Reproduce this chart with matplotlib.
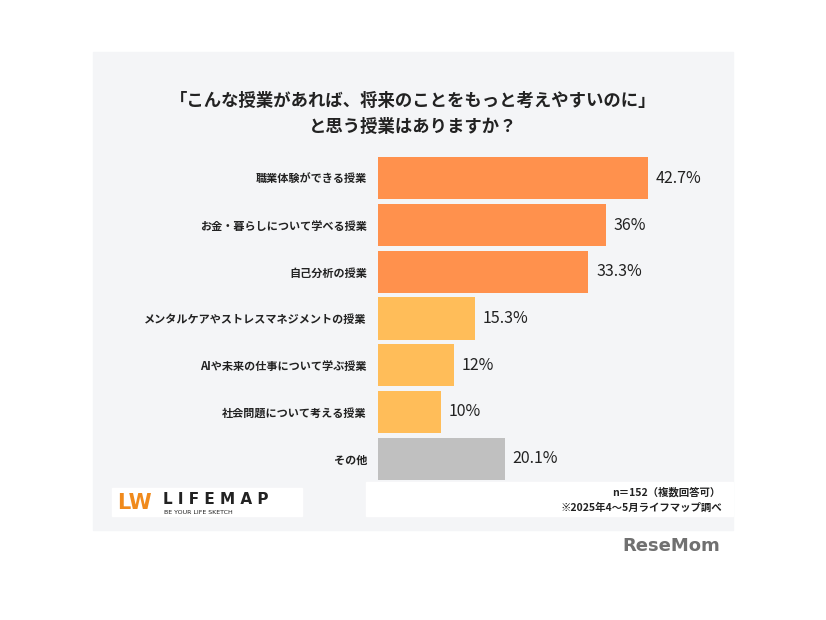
import matplotlib
matplotlib.use("Agg")
import matplotlib.pyplot as plt
from matplotlib.patches import Rectangle

plt.rcParams["font.family"] = "Noto Sans CJK JP"

categories = ["職業体験ができる授業", "お金・暮らしについて学べる授業", "自己分析の授業",
              "メンタルケアやストレスマネジメントの授業", "AIや未来の仕事について学ぶ授業",
              "社会問題について考える授業", "その他"]
values = [42.7, 36, 33.3, 15.3, 12, 10, 20.1]
labels = ["42.7%", "36%", "33.3%", "15.3%", "12%", "10%", "20.1%"]
colors = ["#FF914D"] * 3 + ["#FFBD59"] * 3 + ["#C0C0C0"]

W, H = 826, 620
fig = plt.figure(figsize=(W / 100, H / 100), dpi=100)
fig.patch.set_facecolor("white")

def fx(x): return x / W
def fy(y): return 1 - y / H

for (x0, y0, x1, y1, c) in [(93, 52, 733, 530, "#F4F5F7"), (366, 482, 733, 516, "white"),
                            (112, 488, 302, 516, "white")]:
    fig.patches.append(Rectangle((fx(x0), fy(y1)), fx(x1) - fx(x0), fy(y0) - fy(y1),
                                 transform=fig.transFigure, color=c, zorder=-5))

ax = fig.add_axes([fx(378), fy(482), 316 / W, 327 / H])
ax.set_zorder(2)
ax.set_facecolor("none")
ys = range(len(values))
ax.barh(ys, values, height=0.9, color=colors)
for y, v, l in zip(ys, values, labels):
    ax.text(v + 1.2, y, l, va="center", ha="left", fontsize=11.5, color="#222222")
ax.set_xlim(0, 50)
ax.set_ylim(6.5, -0.5)
ax.set_yticks(list(ys))
ax.set_yticklabels(categories, fontsize=8, fontweight="bold", color="#222222")
ax.tick_params(axis="y", length=0, pad=8)
ax.set_xticks([])
for s in ax.spines.values():
    s.set_visible(False)

fig.text(fx(413), fy(101), "「こんな授業があれば、将来のことをもっと考えやすいのに」",
         ha="center", va="center", fontsize=12.5, fontweight="bold", color="#222222")
fig.text(fx(413), fy(127), "と思う授業はありますか？",
         ha="center", va="center", fontsize=12.5, fontweight="bold", color="#222222")

fig.text(fx(720), fy(492), "n＝152（複数回答可）", ha="right", va="center",
         fontsize=7.5, fontweight="bold", color="#222222")
fig.text(fx(722), fy(508), "※2025年4～5月ライフマップ調べ", ha="right", va="center",
         fontsize=7.5, fontweight="bold", color="#222222")

fig.text(fx(117), fy(503), "LW", ha="left", va="center", fontsize=15,
         fontweight="bold", color="#F08A1C", family="DejaVu Sans")
fig.text(fx(163), fy(499), "L I F E M A P", ha="left", va="center", fontsize=11,
         fontweight="bold", color="#222222", family="DejaVu Sans")
fig.text(fx(164), fy(513), "BE YOUR LIFE SKETCH", ha="left", va="center", fontsize=4.5,
         color="#222222", family="DejaVu Sans")

fig.text(fx(720), fy(546), "ReseMom", ha="right", va="center", fontsize=13,
         fontweight="bold", color="#707070", family="DejaVu Sans")

fig.savefig("out.png", dpi=100, facecolor="white")
